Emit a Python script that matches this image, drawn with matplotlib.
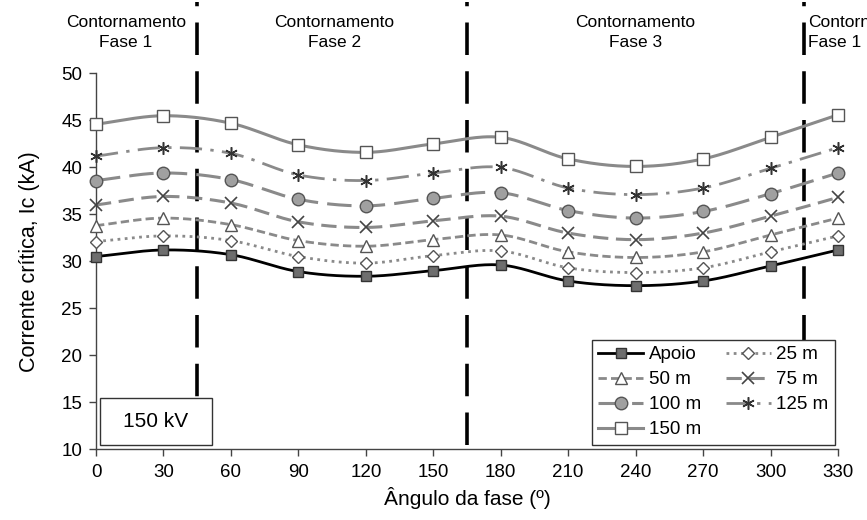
import numpy as np
import matplotlib
matplotlib.use("Agg")
import matplotlib.pyplot as plt
from matplotlib.patches import Rectangle

plt.rcParams['font.family'] = ['Liberation Sans', 'DejaVu Sans']

angles = [0, 30, 60, 90, 120, 150, 180, 210, 240, 270, 300, 330]
apoio = [30.5, 31.2, 30.7, 28.9, 28.4, 29.0, 29.6, 27.9, 27.4, 27.9, 29.5, 31.2]
m25 = [32.1, 32.7, 32.2, 30.5, 29.8, 30.6, 31.1, 29.3, 28.8, 29.3, 31.0, 32.7]
m50 = [33.8, 34.6, 33.9, 32.2, 31.6, 32.3, 32.8, 31.0, 30.4, 31.0, 32.8, 34.6]
m75 = [36.0, 36.9, 36.2, 34.2, 33.6, 34.3, 34.8, 33.0, 32.3, 33.0, 34.8, 36.8]
m100 = [38.6, 39.4, 38.7, 36.6, 35.9, 36.7, 37.3, 35.4, 34.6, 35.3, 37.2, 39.4]
m125 = [41.2, 42.1, 41.5, 39.2, 38.6, 39.4, 40.0, 37.8, 37.1, 37.8, 39.9, 42.1]
m150 = [44.6, 45.5, 44.7, 42.4, 41.6, 42.5, 43.2, 40.9, 40.1, 40.9, 43.2, 45.6]

phase_bounds = [45, 165, 315]
region_labels = ["Contornamento\nFase 1", "Contornamento\nFase 2", "Contornamento\nFase 3", "Contornamento\nFase 1"]


def smooth(x, y, n=30):
    x = np.asarray(x, float)
    y = np.asarray(y, float)
    px = np.concatenate([[2 * x[0] - x[1]], x, [2 * x[-1] - x[-2]]])
    py = np.concatenate([[2 * y[0] - y[1]], y, [2 * y[-1] - y[-2]]])
    xs, ys = [], []
    t = np.linspace(0, 1, n, endpoint=False)
    for i in range(1, len(px) - 2):
        p0, p1, p2, p3 = py[i - 1], py[i], py[i + 1], py[i + 2]
        q0, q1, q2, q3 = px[i - 1], px[i], px[i + 1], px[i + 2]
        for (a0, a1, a2, a3, out) in ((q0, q1, q2, q3, xs), (p0, p1, p2, p3, ys)):
            out.extend(0.5 * ((2 * a1) + (-a0 + a2) * t + (2 * a0 - 5 * a1 + 4 * a2 - a3) * t ** 2
                              + (-a0 + 3 * a1 - 3 * a2 + a3) * t ** 3))
    xs.append(x[-1]); ys.append(y[-1])
    return np.array(xs), np.array(ys)


fig = plt.figure(figsize=(8.67, 5.2), dpi=100)
ax = fig.add_axes([96 / 867, 1 - 449 / 520, (838 - 96) / 867, (449 - 73.5) / 520])

gray = '#8a8a8a'
series = [
    ("Apoio", apoio, dict(color='black', ls='-', lw=2.0), dict(marker='s', ms=7, mfc='#6e6e6e', mec='#333333', mew=1.0)),
    ("25 m", m25, dict(color=gray, ls=(0, (1, 1.6)), lw=2.0), dict(marker='D', ms=6, mfc='white', mec='#555555', mew=1.0)),
    ("50 m", m50, dict(color=gray, ls=(0, (3, 1.5)), lw=2.0), dict(marker='^', ms=8, mfc='white', mec='#555555', mew=1.0)),
    ("75 m", m75, dict(color=gray, ls=(0, (5, 2.5)), lw=2.2), dict(marker='x', ms=9, mfc='none', mec='#444444', mew=1.2)),
    ("100 m", m100, dict(color=gray, ls=(0, (8, 3)), lw=2.2), dict(marker='o', ms=9, mfc='#a0a0a0', mec='#555555', mew=1.0)),
    ("125 m", m125, dict(color=gray, ls=(0, (8, 3, 1.2, 3)), lw=2.0), dict(marker=(6, 2, 0), ms=9, mfc='none', mec='#333333', mew=1.1)),
    ("150 m", m150, dict(color=gray, ls='-', lw=2.2), dict(marker='s', ms=9, mfc='white', mec='#555555', mew=1.0)),
]

handles = {}
for name, vals, lstyle, mstyle in series:
    sx, sy = smooth(angles, vals)
    ax.plot(sx, sy, zorder=2, **lstyle)
    ax.plot(angles, vals, ls='none', zorder=3, clip_on=False, **mstyle)
    h, = ax.plot([], [], label=name, **lstyle, **mstyle)
    handles[name] = h

for b in phase_bounds:
    ax.axvline(b, ymin=0.01, ymax=1.19, color='black', lw=2.6, ls=(0, (9, 4.5)), clip_on=False, zorder=1)

text_x = [13.3, 106.0, 240.0]
for tx, lab in zip(text_x, region_labels[:3]):
    ax.text(tx, 54.35, lab, ha='center', va='center', fontsize=12.5, linespacing=1.45, clip_on=False)
ax.text(316.5, 54.35, region_labels[3], ha='left', va='center', fontsize=12.5, linespacing=1.45, clip_on=False)

ax.set_xlim(0, 330)
ax.set_ylim(10, 50)
ax.set_xticks(angles)
ax.set_yticks(np.arange(10, 51, 5))
ax.tick_params(axis='both', labelsize=13.5, direction='out', length=5, width=1, color='#444444')
ax.tick_params(axis='x', pad=6)
ax.tick_params(axis='y', pad=5)
for s in ['top', 'right']:
    ax.spines[s].set_visible(False)
for s in ['left', 'bottom']:
    ax.spines[s].set_color('#444444')
    ax.spines[s].set_linewidth(1.0)

ax.set_ylabel('Corrente crítica, Ic (kA)', fontsize=15.5, labelpad=15)
ax.set_xlabel('Ângulo da fase (º)', fontsize=15, labelpad=4)

order = ["Apoio", "50 m", "100 m", "150 m", "25 m", "75 m", "125 m"]
leg = ax.legend([handles[k] for k in order], order, ncol=2, loc='lower right',
                bbox_to_anchor=(0.996, 0.011), fontsize=13.5, frameon=True, fancybox=False,
                framealpha=1.0, edgecolor='#333333', handlelength=2.4, handletextpad=0.3,
                columnspacing=1.3, labelspacing=0.42, borderpad=0.35, borderaxespad=0.0)
leg.get_frame().set_linewidth(1.0)
leg.set_zorder(6)

ax.add_patch(Rectangle((4 / 742, 4 / 375.5), 112 / 742, 47 / 375.5, transform=ax.transAxes,
                       fill=True, facecolor='white', edgecolor='#333333', lw=1.0, zorder=4))
ax.text((4 + 56) / 742, (4 + 23.5) / 375.5, '150 kV', transform=ax.transAxes, ha='center',
        va='center', fontsize=15, zorder=5)

fig.savefig('out.png', dpi=100)
